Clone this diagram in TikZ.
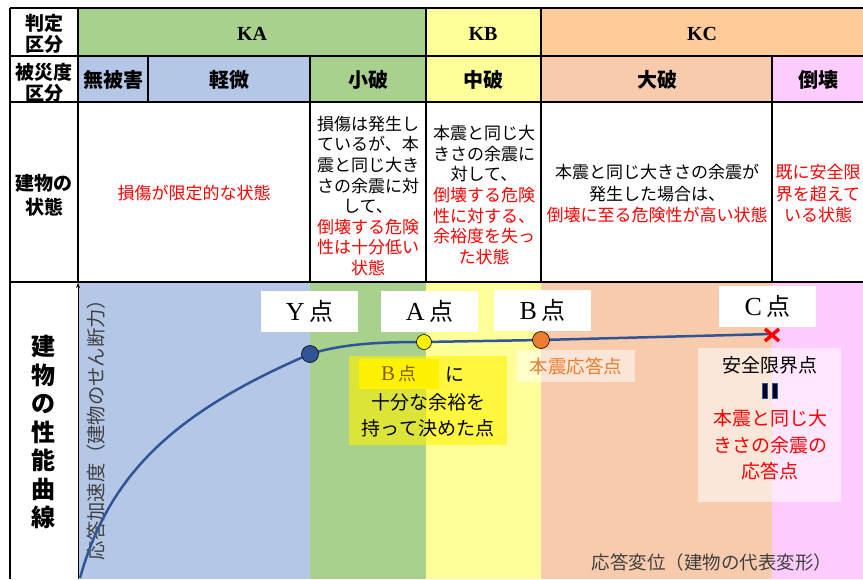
\documentclass[tikz,border=0pt]{standalone}
\usepackage{fontspec}
\setmainfont{Noto Sans CJK JP}
\newfontfamily\lserif{Liberation Serif}
\usetikzlibrary{arrows.meta}
\definecolor{cgreen}{HTML}{A9D18E}
\definecolor{cblue}{HTML}{B4C7E7}
\definecolor{cyel}{HTML}{FFFF99}
\definecolor{corg}{HTML}{FFCC99}
\definecolor{cpeach}{HTML}{F8CBAD}
\definecolor{cpink}{HTML}{FFCCFF}
\definecolor{cnavy}{HTML}{2F5597}
\definecolor{corange}{HTML}{ED7D31}
\definecolor{cgray}{HTML}{404040}
\definecolor{colive}{HTML}{7F6000}
\newcommand{\fs}[2]{\fontsize{#1}{#2}\selectfont}
\tikzset{
  grid/.style={line width=1.6pt, black},
  hdr/.style={font=\fs{19}{21.5}\bfseries, align=center, inner sep=0pt},
  cat/.style={font=\fs{20}{22}\bfseries, inner sep=0pt},
  kk/.style={font=\lserif\bfseries\fs{20}{22}, inner sep=0pt},
  body/.style={font=\fs{17}{20.6}, align=center, inner sep=0pt},
  ptlab/.style={fill=white, minimum width=97pt, minimum height=41pt, inner sep=0pt},
  dot/.style={circle, draw=black, line width=0.6pt, minimum size=16pt, inner sep=0pt},
}
\begin{document}
\begin{tikzpicture}[x=1pt,y=-1pt]
\useasboundingbox (0,0) rectangle (863,579);
\fill[white] (0,0) rectangle (863,579);
% row 1
\fill[cgreen] (78,8) rectangle (426,56);
\fill[cyel] (426,8) rectangle (541,56);
\fill[corg] (541,8) rectangle (863,56);
% row 2
\fill[cblue] (78,56) rectangle (310,102);
\fill[cgreen] (310,56) rectangle (426,102);
\fill[cyel] (426,56) rectangle (541,102);
\fill[cpeach] (541,56) rectangle (772,102);
\fill[cpink] (772,56) rectangle (863,102);
% row 4 bands
\fill[cblue] (78,282) rectangle (310,579);
\fill[cgreen] (310,282) rectangle (426,579);
\fill[cyel] (426,282) rectangle (541,579);
\fill[cpeach] (541,282) rectangle (772,579);
\fill[cpink] (772,282) rectangle (863,579);
% grid
\draw[grid] (10,8) -- (863,8);
\draw[grid] (10,56) -- (863,56);
\draw[grid] (10,102) -- (863,102);
\draw[grid] (10,282) -- (863,282);
\draw[grid] (10,8) -- (10,579);
\draw[grid] (78,8) -- (78,282);
\draw[grid] (426,8) -- (426,282);
\draw[grid] (541,8) -- (541,282);
\draw[grid] (148,56) -- (148,102);
\draw[grid] (310,56) -- (310,282);
\draw[grid] (772,56) -- (772,282);
% y axis
\coordinate (ax0) at (78,579);
\coordinate (ax1) at (78,283);
\draw[line width=0.8pt, -{Stealth[length=5pt,width=4pt]}] (ax0) -- (ax1);
% row labels
\node[hdr] (h1) at (44,34) {判定\\区分};
\node[hdr] (h2) at (44,83) {被災度\\区分};
\node[hdr, font=\fs{19}{24}\bfseries] (h3) at (44,195) {建物の\\状態};
\node[hdr, font=\fs{24}{28.5}\bfseries] (h4) at (43,432) {建\\物\\の\\性\\能\\曲\\線};
% row 1
\node[kk] (ka) at (252,34) {KA};
\node[kk] (kb) at (483,34) {KB};
\node[kk] (kc) at (702,34) {KC};
% row 2
\node[cat] (c1) at (113,80) {無被害};
\node[cat] (c2) at (229,80) {軽微};
\node[cat] (c3) at (368,80) {小破};
\node[cat] (c4) at (483,80) {中破};
\node[cat] (c5) at (657,80) {大破};
\node[cat] (c6) at (818,80) {倒壊};
% row 3
\node[body, text=red] (s1) at (194,193) {損傷が限定的な状態};
\node[body] (s2) at (368,196) {損傷は発生し\\ているが、本\\震と同じ大き\\さの余震に対\\して、\\\color{red}倒壊する危険\\\color{red}性は十分低い\\\color{red}状態};
\node[body] (s3) at (484,195) {本震と同じ大\\きさの余震に\\対して、\\\color{red}倒壊する危険\\\color{red}性に対する、\\\color{red}余裕度を失っ\\\color{red}た状態};
\node[body, font=\fs{17}{21.5}] (s4) at (657,194) {本震と同じ大きさの余震が\\発生した場合は、\\\color{red}倒壊に至る危険性が高い状態};
\node[body, text=red, font=\fs{17}{21.5}] (s5) at (818,194) {既に安全限\\界を超えて\\いる状態};
% axis labels
\node[inner sep=0pt, rotate=90, text=cgray, font=\fs{19.3}{22}] (ylab) at (96,425) {応答加速度（建物のせん断力）};
\node[inner sep=0pt, text=cgray, font=\fs{18.5}{22}] (xlab) at (712,562) {応答変位（建物の代表変形）};
% curve
\coordinate (P0) at (80,578);
\coordinate (Yp) at (310,354);
\coordinate (Ap) at (424,342);
\coordinate (Bp) at (541,340);
\coordinate (Cp) at (772,334);
\draw[cnavy, line width=2.5pt] (P0) .. controls (110,470) and (180,410) .. (Yp)
  .. controls (345,343) and (385,342) .. (Ap) -- (Bp) -- (Cp);
\node[dot, fill=cnavy, minimum size=17pt] (Ydot) at (Yp) {};
\node[dot, fill=yellow, minimum size=15pt] (Adot) at (Ap) {};
\node[dot, fill=corange, minimum size=17pt] (Bdot) at (Bp) {};
\draw[red, line width=3.5pt] (765,329) -- (779,341) (765,341) -- (779,329);
\coordinate (Cx) at (Cp);
% point labels
\node[ptlab] (yl) at (309.5,311.5) {\lserif\fs{26}{26}Y\,\fs{24}{24}\normalfont 点};
\node[ptlab] (al) at (429.5,311) {\lserif\fs{26}{26}A\,\fs{24}{24}\normalfont 点};
\node[ptlab] (bl) at (542.5,310.5) {\lserif\fs{26}{26}B\,\fs{24}{24}\normalfont 点};
\node[ptlab] (cl) at (767.5,306.5) {\lserif\fs{26}{26}C\,\fs{24}{24}\normalfont 点};
% main response label
\node[fill=white, fill opacity=0.5, text opacity=1, minimum width=118pt, minimum height=32pt, inner sep=0pt, text=corange, font=\fs{18.5}{20}] (hon) at (576,366) {本震応答点};
% safety limit box
\node[fill=white, fill opacity=0.55, minimum width=143pt, minimum height=154pt, inner sep=0pt] (sbox) at (769.5,425) {};
\node[inner sep=0pt, font=\fs{19}{21}] (sl1) at (770,365) {安全限界点};
\draw[fill=black!85!blue, draw=cnavy, line width=0.6pt] (762,383) rectangle (767,398) (772,383) rectangle (777,398);
\coordinate (eq) at (769.5,390.5);
\node[inner sep=0pt, text=red, align=center, font=\fs{19}{26.5}] (sl2) at (770,445) {本震と同じ大\\きさの余震の\\応答点};
% yellow box
\node[fill=yellow, fill opacity=0.6, minimum width=158pt, minimum height=89pt, inner sep=0pt] (ybox) at (428,400.5) {};
\node[fill=yellow, minimum width=80pt, minimum height=30pt, inner sep=0pt, text=colive] (bhl) at (399,374) {\lserif\fs{21}{21}B\,\normalfont\fs{18}{18}点};
\node[inner sep=0pt, font=\fs{19}{21}] (ni) at (455,375) {に};
\node[inner sep=0pt, align=center, font=\fs{19}{26}] (ytx) at (428,415) {十分な余裕を\\持って決めた点};
\end{tikzpicture}
\end{document}
